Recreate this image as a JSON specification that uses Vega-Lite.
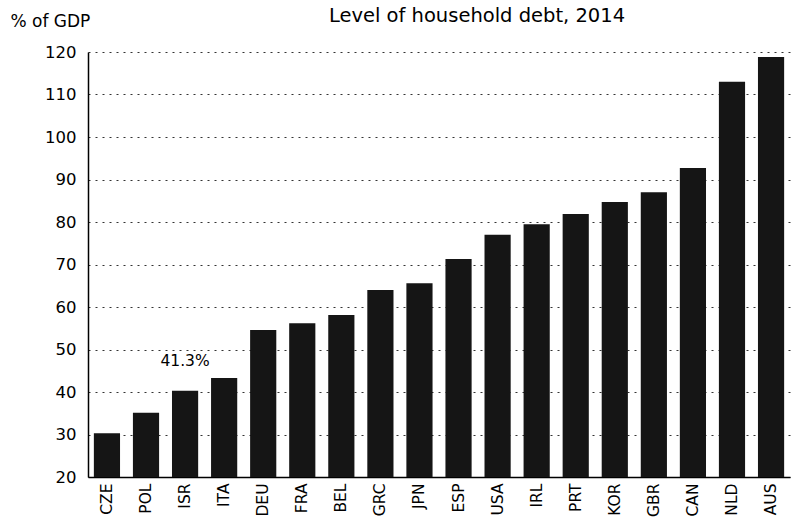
{
  "$schema": "https://vega.github.io/schema/vega-lite/v6.json",
  "autosize": {"type": "none"},
  "padding": {"left": 88, "top": 52, "right": 7, "bottom": 45},
  "width": 702,
  "height": 425,
  "background": "white",
  "title": {
    "text": "Level of household debt, 2014",
    "anchor": "middle",
    "dx": 38,
    "dy": 14,
    "offset": 0,
    "font": "DejaVu Sans",
    "fontSize": 19.5,
    "fontWeight": "normal",
    "color": "black"
  },
  "data": {
    "values": [
      {"country": "CZE", "value": 30.3},
      {"country": "POL", "value": 35.1},
      {"country": "ISR", "value": 40.3, "note": "41.3%"},
      {"country": "ITA", "value": 43.3},
      {"country": "DEU", "value": 54.6},
      {"country": "FRA", "value": 56.2},
      {"country": "BEL", "value": 58.1},
      {"country": "GRC", "value": 64.0},
      {"country": "JPN", "value": 65.6},
      {"country": "ESP", "value": 71.3},
      {"country": "USA", "value": 77.0},
      {"country": "IRL", "value": 79.5},
      {"country": "PRT", "value": 81.9},
      {"country": "KOR", "value": 84.7},
      {"country": "GBR", "value": 87.0},
      {"country": "CAN", "value": 92.7},
      {"country": "NLD", "value": 113.0},
      {"country": "AUS", "value": 118.8}
    ]
  },
  "encoding": {
    "x": {
      "field": "country",
      "type": "nominal",
      "sort": null,
      "scale": {"paddingInner": 0.33, "paddingOuter": 0.15},
      "axis": {
        "title": null,
        "labelAngle": -90,
        "labelFont": "DejaVu Sans",
        "labelFontSize": 15.5,
        "labelColor": "black",
        "labelPadding": 6,
        "ticks": false,
        "domainColor": "black",
        "domainWidth": 1.5,
        "grid": false
      }
    },
    "y": {
      "field": "value",
      "type": "quantitative",
      "scale": {"domain": [20, 120], "nice": false, "zero": false},
      "axis": {
        "title": "% of GDP",
        "titleAngle": 0,
        "titleX": -78,
        "titleY": -26,
        "titleAlign": "left",
        "titleBaseline": "alphabetic",
        "titleFont": "DejaVu Sans",
        "titleFontSize": 17,
        "titleFontWeight": "normal",
        "titleColor": "black",
        "values": [20, 30, 40, 50, 60, 70, 80, 90, 100, 110, 120],
        "labelFont": "DejaVu Sans",
        "labelFontSize": 16.5,
        "labelColor": "black",
        "labelPadding": 12,
        "ticks": false,
        "domainColor": "black",
        "domainWidth": 1.5,
        "grid": true,
        "gridColor": "black",
        "gridDash": [2, 5],
        "gridWidth": 1,
        "gridOpacity": 0.8
      }
    }
  },
  "layer": [
    {
      "mark": {"type": "bar", "color": "#151515"},
      "encoding": {"y2": {"datum": 20}}
    },
    {
      "transform": [{"filter": "datum.note != null"}],
      "mark": {"type": "text", "dy": -30, "font": "DejaVu Sans", "fontSize": 15.5, "color": "black"},
      "encoding": {"text": {"field": "note"}}
    }
  ],
  "config": {"view": {"stroke": null}}
}
